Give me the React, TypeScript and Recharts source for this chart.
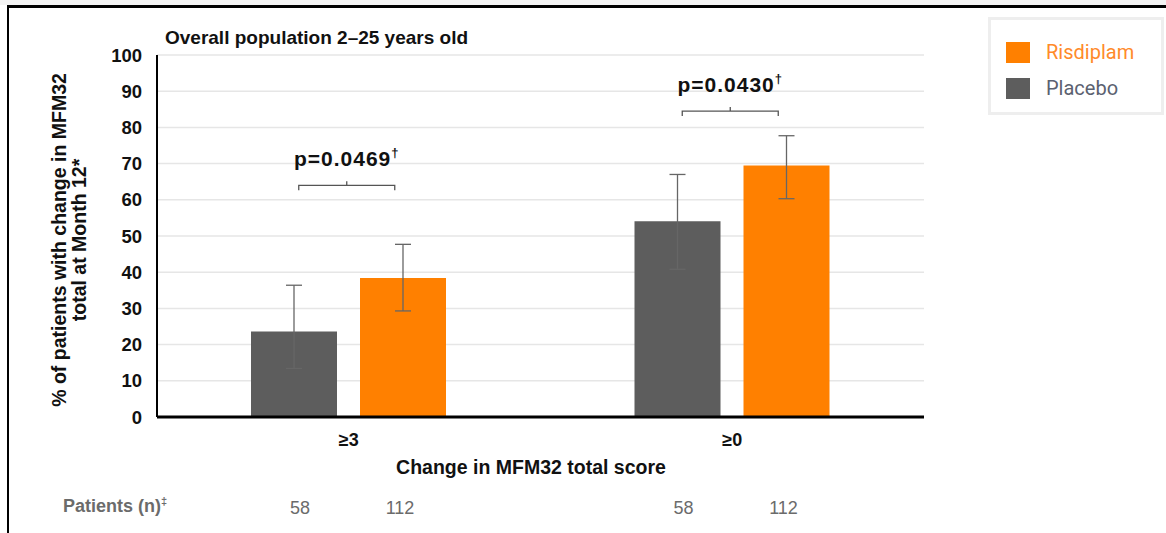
import React from 'react';
import {
  BarChart,
  Bar,
  XAxis,
  YAxis,
  CartesianGrid,
  ErrorBar,
  LabelList,
  ReferenceDot,
} from 'recharts';

const categories = ['≥3', '≥0'];
const placebo = [23.6, 54.1];
const risdiplam = [38.4, 69.5];
const placeboCI = [[13.4, 36.4], [40.8, 67.0]];
const risdiplamCI = [[29.3, 47.7], [60.3, 77.7]];
const placeboN = [58, 58];
const risdiplamN = [112, 112];
const pValues = ['p=0.0469', 'p=0.0430'];
const bracketLevel = [64, 84.5];
const yTicks = [0, 10, 20, 30, 40, 50, 60, 70, 80, 90, 100];

const PLACEBO = '#5d5d5d';
const RISDIPLAM = '#ff8000';
const FONT = '"Liberation Sans", Arial, sans-serif';

const data = categories.map((cat, i) => ({
  cat,
  placebo: placebo[i],
  placeboErr: [placebo[i] - placeboCI[i][0], placeboCI[i][1] - placebo[i]],
  placeboN: placeboN[i],
  risdiplam: risdiplam[i],
  risdiplamErr: [risdiplam[i] - risdiplamCI[i][0], risdiplamCI[i][1] - risdiplam[i]],
  risdiplamN: risdiplamN[i],
}));

// patient counts sit in a row well below the axis, under each bar
const countLabel = (shift: number) => (props: any) => {
  const { x, y, width, height, value } = props;
  return (
    <text
      x={x + width / 2 + shift}
      y={y + height + 97}
      textAnchor="middle"
      fontFamily={FONT}
      fontSize={18}
      fill="#6b6b6b"
    >
      {value}
    </text>
  );
};

const bracket = (label: string) => (props: any) => {
  const { cx, cy } = props;
  const half = 48;
  const c = cx - 2;
  return (
    <g>
      <path
        d={`M${c - half},${cy + 5} L${c - half},${cy} L${c + half},${cy} L${c + half},${cy + 5} M${c},${cy} L${c},${cy - 4}`}
        stroke="#555"
        strokeWidth={1.3}
        fill="none"
      />
      <text
        x={c}
        y={cy - 19}
        textAnchor="middle"
        fontFamily={FONT}
        fontWeight="bold"
        fontSize={21}
        letterSpacing={1}
        fill="#111"
      >
        {label}
        <tspan fontSize={13} dy={-9}>†</tspan>
      </text>
    </g>
  );
};

const YTitle = (props: any) => {
  const { viewBox } = props;
  const cy = viewBox.y + viewBox.height / 2 + 4;
  const cx = 70;
  return (
    <text
      transform={`rotate(-90, ${cx}, ${cy})`}
      x={cx}
      y={cy}
      textAnchor="middle"
      fontFamily={FONT}
      fontWeight="bold"
      fontSize={19.5}
      fill="#111"
    >
      <tspan x={cx} dy={-4}>% of patients with change in MFM32</tspan>
      <tspan x={cx} dy={20}>total at Month 12*</tspan>
    </text>
  );
};

const legendItems = [
  { name: 'Risdiplam', color: RISDIPLAM, text: '#ff8a2a' },
  { name: 'Placebo', color: PLACEBO, text: '#5b6170' },
];

const LegendBox = () => (
  <div
    style={{
      position: 'absolute',
      left: 988,
      top: 17,
      width: 170,
      height: 92,
      border: '3px solid #eeeeee',
      background: '#fff',
      fontFamily: 'Roboto, sans-serif',
      fontSize: 20,
    }}
  >
    {legendItems.map((it, i) => (
      <div
        key={it.name}
        style={{ position: 'absolute', left: 15, top: 21 + i * 36, display: 'flex', alignItems: 'center' }}
      >
        <div style={{ width: 24, height: 21, background: it.color }} />
        <span style={{ marginLeft: 16, color: it.text, lineHeight: '22px' }}>{it.name}</span>
      </div>
    ))}
  </div>
);

export default function App() {
  return (
    <div
      style={{
        position: 'fixed',
        left: 0,
        top: 0,
        width: 1166,
        height: 533,
        background: '#fff',
        overflow: 'hidden',
        fontFamily: FONT,
      }}
    >
      {/* page frame */}
      <div style={{ position: 'absolute', left: 0, top: 0, width: 1166, height: 5, background: '#f3f3f3' }} />
      <div style={{ position: 'absolute', left: 7, top: 5, width: 1159, height: 3, background: '#000' }} />
      <div style={{ position: 'absolute', left: 7, top: 5, width: 2, height: 528, background: '#000' }} />

      <div
        style={{
          position: 'absolute',
          left: 165,
          top: 27,
          fontSize: 19,
          fontWeight: 'bold',
          color: '#111',
          whiteSpace: 'nowrap',
        }}
      >
        Overall population 2–25 years old
      </div>

      <BarChart
        width={1166}
        height={533}
        data={data}
        barGap={23}
        margin={{ top: 55, right: 242, bottom: 86, left: 97 }}
        style={{ position: 'absolute', left: 0, top: 0 }}
      >
        <CartesianGrid vertical={false} stroke="#e6e6e6" strokeWidth={1.5} />
        <XAxis
          dataKey="cat"
          height={30}
          tickLine={false}
          tickSize={0}
          tickMargin={16}
          axisLine={{ stroke: '#000', strokeWidth: 3 }}
          tick={{ fontFamily: FONT, fontWeight: 'bold', fontSize: 18, fill: '#111' }}
        />
        <YAxis
          width={60}
          domain={[0, 100]}
          ticks={yTicks}
          interval={0}
          tickLine={false}
          tickSize={0}
          tickMargin={15}
          axisLine={{ stroke: '#000', strokeWidth: 2 }}
          tick={{ fontFamily: FONT, fontWeight: 'bold', fontSize: 18.5, fill: '#111' }}
          label={<YTitle />}
        />
        <Bar dataKey="placebo" name="Placebo" fill={PLACEBO} barSize={86} isAnimationActive={false}>
          <ErrorBar dataKey="placeboErr" width={8} stroke="#666" strokeWidth={1.3} direction="y" />
          <LabelList dataKey="placeboN" content={countLabel(6)} />
        </Bar>
        <Bar dataKey="risdiplam" name="Risdiplam" fill={RISDIPLAM} barSize={86} isAnimationActive={false}>
          <ErrorBar dataKey="risdiplamErr" width={8} stroke="#666" strokeWidth={1.3} direction="y" />
          <LabelList dataKey="risdiplamN" content={countLabel(-3)} />
        </Bar>
        {categories.map((cat, i) => (
          <ReferenceDot key={cat} x={cat} y={bracketLevel[i]} shape={bracket(pValues[i])} ifOverflow="visible" />
        ))}
      </BarChart>

      <LegendBox />

      <div
        style={{
          position: 'absolute',
          left: 0,
          width: 1062,
          top: 456,
          textAlign: 'center',
          fontSize: 19.5,
          fontWeight: 'bold',
          color: '#111',
        }}
      >
        Change in MFM32 total score
      </div>
      <div
        style={{
          position: 'absolute',
          left: 63,
          top: 495,
          fontSize: 18,
          fontWeight: 'bold',
          color: '#6b6b6b',
          whiteSpace: 'nowrap',
        }}
      >
        Patients (n)<sup style={{ fontSize: 11 }}>‡</sup>
      </div>
    </div>
  );
}
